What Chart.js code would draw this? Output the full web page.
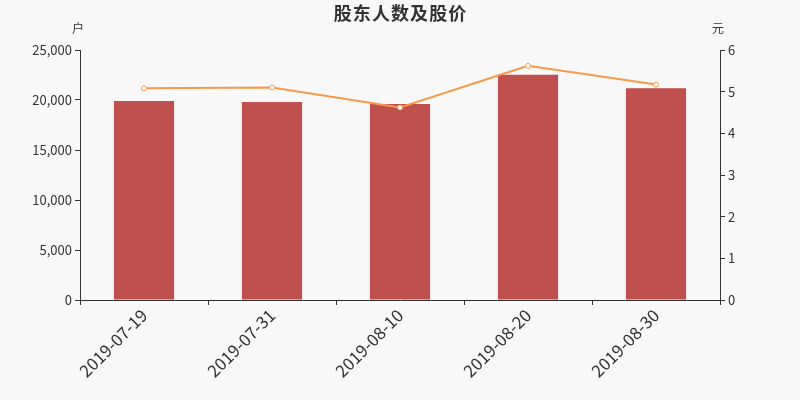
<!DOCTYPE html>
<html>
<head>
<meta charset="utf-8">
<script src="https://cdn.jsdelivr.net/npm/chart.js@4/dist/chart.umd.min.js"></script>
<style>
  html, body { margin: 0; padding: 0; background: #f8f8f8; }
  #wrap { width: 800px; height: 400px; }
</style>
</head>
<body>
<div id="wrap"><canvas id="barChart" width="800" height="400"></canvas></div>
<script>
// Daten
var dates = ['2019-07-19', '2019-07-31', '2019-08-10', '2019-08-20', '2019-08-30'];
var holders = [19900, 19800, 19600, 22530, 21170];   // 股东人数 (户)
var prices = [5.08, 5.10, 4.62, 5.62, 5.17];          // 股价 (元)
var chartTitle = '股东人数及股价';
var leftUnit = '户';
var rightUnit = '元';

var FONT = '"Noto Sans CJK SC", "DejaVu Sans", sans-serif';
var TEXT = '#333333';

// Titel und Einheiten zeichnen
var labelsPlugin = {
    id: 'labelsPlugin',
    afterDraw: function(chart) {
        var ctx = chart.ctx;
        var area = chart.chartArea;
        ctx.save();
        ctx.fillStyle = TEXT;
        ctx.textAlign = 'center';
        ctx.textBaseline = 'middle';
        ctx.font = 'bold 18px ' + FONT;
        ctx.fillText(chartTitle.split('').join(String.fromCharCode(8202)), 400, 13);
        ctx.font = '12px ' + FONT;
        ctx.fillText(leftUnit, area.left - 2, 28);
        ctx.fillText(rightUnit, area.right - 2, 28);
        ctx.restore();
    }
};

var ctx = document.getElementById('barChart').getContext('2d');
var chart = new Chart(ctx, {
    type: 'bar',
    data: {
        labels: dates,
        datasets: [{
            type: 'line',
            label: '股价',
            data: prices,
            yAxisID: 'y1',
            borderColor: '#f7994a',
            backgroundColor: '#ffffff',
            borderWidth: 2,
            pointRadius: 2.5,
            pointBorderWidth: 1,
            pointBackgroundColor: '#ffffff',
            pointBorderColor: '#f7994a',
            tension: 0,
            order: 0
        }, {
            type: 'bar',
            label: '股东人数',
            data: holders,
            yAxisID: 'y',
            backgroundColor: '#c0504d',
            categoryPercentage: 1,
            barPercentage: 0.47,
            order: 1
        }]
    },
    options: {
        responsive: false,
        animation: false,
        layout: { padding: { top: 50, left: 0, right: 0, bottom: 0 } },
        plugins: {
            legend: { display: false },
            tooltip: { enabled: false }
        },
        scales: {
            x: {
                grid: { display: true, drawOnChartArea: false, color: TEXT, tickLength: 5 },
                border: { color: TEXT, width: 1 },
                ticks: {
                    color: TEXT,
                    font: { family: FONT, size: 17 },
                    minRotation: 45,
                    maxRotation: 45,
                    padding: 0
                },
                afterFit: function(scale) { scale.height = 100; }
            },
            y: {
                position: 'left',
                min: 0,
                max: 25000,
                grid: { display: true, drawOnChartArea: false, color: TEXT, tickLength: 5 },
                border: { color: TEXT, width: 1 },
                ticks: {
                    stepSize: 5000,
                    color: TEXT,
                    font: { family: FONT, size: 13 },
                    padding: 3,
                    callback: function(v) { return v.toLocaleString('en-US'); }
                },
                afterFit: function(scale) { scale.width = 80; }
            },
            y1: {
                position: 'right',
                min: 0,
                max: 6,
                grid: { display: true, drawOnChartArea: false, color: TEXT, tickLength: 5 },
                border: { color: TEXT, width: 1 },
                ticks: {
                    stepSize: 1,
                    color: TEXT,
                    font: { family: FONT, size: 13 },
                    padding: 3
                },
                afterFit: function(scale) { scale.width = 80; }
            }
        }
    },
    plugins: [labelsPlugin]
});
</script>
</body>
</html>
